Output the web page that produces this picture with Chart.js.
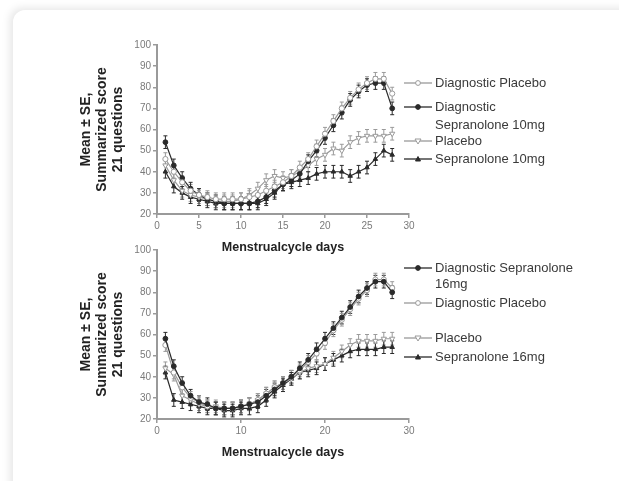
<!DOCTYPE html>
<html>
<head>
<meta charset="utf-8">
<script src="https://cdn.jsdelivr.net/npm/chart.js@4.4.1/dist/chart.umd.min.js"></script>
<style>
  html, body { margin: 0; padding: 0; background: #fff; }
  body { width: 619px; height: 481px; position: relative; overflow: hidden; font-family: "Liberation Sans", Arial, sans-serif; }
  .card { position: absolute; left: 13px; top: 10px; width: 640px; height: 500px; border-radius: 12px; background: #fff;
          box-shadow: -3px -2px 9px rgba(0,0,0,0.10); }
  .plot { position: absolute; left: 70px; }
  .legend { position: absolute; left: 404px; font-size: 13px; color: #3a3a3a; }
  .item { position: absolute; left: 0; white-space: nowrap; }
  .item svg { position: absolute; left: 0; top: 0; }
  .item span { position: absolute; left: 31px; top: -8px; line-height: 16px; }
</style>
</head>
<body>
<div class="card"></div>
<div class="plot" style="top:30px;width:350px;height:229px"><canvas id="top"></canvas></div>
<div class="plot" style="top:240px;width:350px;height:224px"><canvas id="bottom"></canvas></div>
<div class="legend" id="legTop" style="top:0"></div>
<div class="legend" id="legBottom" style="top:0"></div>
<script>
// --- DATOS ---
const days = [1,2,3,4,5,6,7,8,9,10,11,12,13,14,15,16,17,18,19,20,21,22,23,24,25,26,27,28];
const yTicks = [20, 30, 40, 50, 60, 70, 80, 90, 100];
const xTicksTop = [0, 5, 10, 15, 20, 25, 30];
const xTicksBottom = [0, 10, 20, 30];

// panel superior (10mg)
const topDiagPlacebo = [46,40,35,31,29,28,27,27,27,27,28,29,31,33,35,38,42,46,52,58,64,70,75,79,82,84,84,77];
const topDiagSep10   = [54,43,37,32,29,27,26,25,25,25,25,26,28,31,34,36,39,45,50,56,62,68,74,78,81,82,82,70];
const topPlacebo     = [43,36,31,29,28,27,26,26,26,27,29,32,36,38,37,38,40,43,46,48,51,50,54,56,57,57,57,58];
const topSep10       = [40,33,30,28,27,26,25,25,25,25,25,25,27,30,34,35,36,37,39,40,40,40,38,40,42,46,50,48];

// panel inferior (16mg)
const botDiagSep16   = [58,45,37,31,28,27,25,25,25,26,27,28,31,34,37,40,44,48,53,58,63,68,73,78,82,85,85,80];
const botDiagPlacebo = [55,42,35,30,28,26,25,25,25,26,27,29,32,35,37,40,43,47,51,56,62,67,72,77,81,86,86,82];
const botPlacebo     = [44,41,31,29,27,26,26,25,25,26,27,29,32,35,37,39,42,44,45,46,49,52,55,57,57,57,58,58];
const botSep16       = [42,29,28,27,26,25,25,24,24,25,25,26,29,33,36,39,42,43,44,46,48,50,52,53,53,53,54,54];

// error estandar aproximado por serie
const seTop = [3, 3, 3, 3];
const seBottom = [3, 3, 3, 3];

const BLACK = '#2a2a2a';
const GRAY = '#9a9a9a';
const FONT = '"Liberation Sans", Arial, sans-serif';

const styles = {
  diagPlacebo: { color: GRAY, pointStyle: 'circle', fill: '#fff', rot: 0, r: 2.6 },
  diagSep:     { color: BLACK, pointStyle: 'circle', fill: BLACK, rot: 0, r: 2.4 },
  placebo:     { color: GRAY, pointStyle: 'triangle', fill: '#fff', rot: 180, r: 3 },
  sep:         { color: BLACK, pointStyle: 'triangle', fill: BLACK, rot: 0, r: 2.6 }
};

function makeSet(label, values, st, se) {
  return {
    label,
    data: days.map((d, i) => ({ x: d, y: values[i] })),
    se,
    borderColor: st.color,
    backgroundColor: st.fill,
    pointBorderColor: st.color,
    pointBackgroundColor: st.fill,
    pointStyle: st.pointStyle,
    pointRotation: st.rot,
    pointRadius: st.r,
    pointBorderWidth: 1,
    borderWidth: 1.2,
    tension: 0
  };
}

// barras de error (media ± SE)
const errorBars = {
  id: 'errorBars',
  beforeDatasetsDraw(chart) {
    const { ctx, scales: { y } } = chart;
    chart.data.datasets.forEach((ds, i) => {
      const meta = chart.getDatasetMeta(i);
      ctx.save();
      ctx.strokeStyle = ds.borderColor;
      ctx.lineWidth = 1;
      meta.data.forEach((pt, j) => {
        const v = ds.data[j].y;
        const y1 = y.getPixelForValue(v + ds.se);
        const y2 = y.getPixelForValue(v - ds.se);
        ctx.beginPath();
        ctx.moveTo(pt.x, y1); ctx.lineTo(pt.x, y2);
        ctx.moveTo(pt.x - 2, y1); ctx.lineTo(pt.x + 2, y1);
        ctx.moveTo(pt.x - 2, y2); ctx.lineTo(pt.x + 2, y2);
        ctx.stroke();
      });
      ctx.restore();
    });
  }
};

function makeOptions(xTicks, padTop) {
  const axisGrid = { drawOnChartArea: false, drawTicks: true, tickLength: 4, color: '#9a9a9a', lineWidth: 1.5 };
  const axisBorder = { display: true, color: '#9a9a9a', width: 2 };
  return {
    responsive: true,
    maintainAspectRatio: false,
    animation: false,
    layout: { padding: { top: padTop, right: 11, left: 0, bottom: 0 } },
    plugins: { legend: { display: false }, tooltip: { enabled: false } },
    scales: {
      x: {
        type: 'linear', min: 0, max: 30,
        afterBuildTicks: s => { s.ticks = xTicks.map(v => ({ value: v })); },
        afterFit: s => { s.height = 45; },
        grid: axisGrid, border: axisBorder,
        ticks: { color: '#7a7a7a', font: { family: FONT, size: 10 }, padding: 2, maxRotation: 0 },
        title: { display: true, text: 'Menstrualcycle days', color: '#222', padding: { top: 0, bottom: 4 },
                 font: { family: FONT, size: 12.5, weight: 'bold' } }
      },
      y: {
        min: 20, max: 100,
        afterBuildTicks: s => { s.ticks = yTicks.map(v => ({ value: v })); },
        afterFit: s => { s.width = 87; },
        grid: axisGrid, border: axisBorder,
        ticks: { color: '#7a7a7a', font: { family: FONT, size: 10 }, padding: 2 },
        title: { display: true, text: ['Mean \u00b1 SE,', 'Summarized score', '21 questions'], color: '#222',
                 padding: { top: 8, bottom: 0 }, font: { family: FONT, size: 14, weight: 'bold', lineHeight: 1.15 } }
      }
    }
  };
}

new Chart(document.getElementById('top'), {
  type: 'line',
  data: { datasets: [
    makeSet('Diagnostic Placebo', topDiagPlacebo, styles.diagPlacebo, seTop[0]),
    makeSet('Diagnostic Sepranolone 10mg', topDiagSep10, styles.diagSep, seTop[1]),
    makeSet('Placebo', topPlacebo, styles.placebo, seTop[2]),
    makeSet('Sepranolone 10mg', topSep10, styles.sep, seTop[3])
  ] },
  options: makeOptions(xTicksTop, 15),
  plugins: [errorBars]
});

new Chart(document.getElementById('bottom'), {
  type: 'line',
  data: { datasets: [
    makeSet('Diagnostic Sepranolone 16mg', botDiagSep16, styles.diagSep, seBottom[0]),
    makeSet('Diagnostic Placebo', botDiagPlacebo, styles.diagPlacebo, seBottom[1]),
    makeSet('Placebo', botPlacebo, styles.placebo, seBottom[2]),
    makeSet('Sepranolone 16mg', botSep16, styles.sep, seBottom[3])
  ] },
  options: makeOptions(xTicksBottom, 10),
  plugins: [errorBars]
});

// --- LEYENDAS ---
function markerSvg(st) {
  let shape;
  if (st.pointStyle === 'circle') {
    shape = `<circle cx="14" cy="8" r="2.4" fill="${st.fill}" stroke="${st.color}" stroke-width="1"/>`;
  } else if (st.rot === 180) {
    shape = `<polygon points="11,6 17,6 14,11" fill="${st.fill}" stroke="${st.color}" stroke-width="1"/>`;
  } else {
    shape = `<polygon points="11.5,10 16.5,10 14,5.5" fill="${st.fill}" stroke="${st.color}" stroke-width="1"/>`;
  }
  return `<svg width="28" height="16" style="top:-8px"><line x1="0" y1="8" x2="28" y2="8" stroke="${st.color}" stroke-width="1.3"/>${shape}</svg>`;
}

function buildLegend(id, items) {
  const box = document.getElementById(id);
  items.forEach(it => {
    const div = document.createElement('div');
    div.className = 'item';
    div.style.top = it.y + 'px';
    div.innerHTML = markerSvg(it.st) + `<span>${it.text}</span>`;
    box.appendChild(div);
    if (it.text2) {
      const extra = document.createElement('div');
      extra.className = 'item';
      extra.style.top = it.y2 + 'px';
      extra.innerHTML = `<span>${it.text2}</span>`;
      box.appendChild(extra);
    }
  });
}

buildLegend('legTop', [
  { y: 83, text: 'Diagnostic Placebo', st: styles.diagPlacebo },
  { y: 107, text: 'Diagnostic', text2: 'Sepranolone 10mg', y2: 125, st: styles.diagSep },
  { y: 141, text: 'Placebo', st: styles.placebo },
  { y: 159, text: 'Sepranolone 10mg', st: styles.sep }
]);

buildLegend('legBottom', [
  { y: 268, text: 'Diagnostic Sepranolone', text2: '16mg', y2: 284, st: styles.diagSep },
  { y: 303, text: 'Diagnostic Placebo', st: styles.diagPlacebo },
  { y: 338, text: 'Placebo', st: styles.placebo },
  { y: 357, text: 'Sepranolone 16mg', st: styles.sep }
]);
</script>
</body>
</html>
